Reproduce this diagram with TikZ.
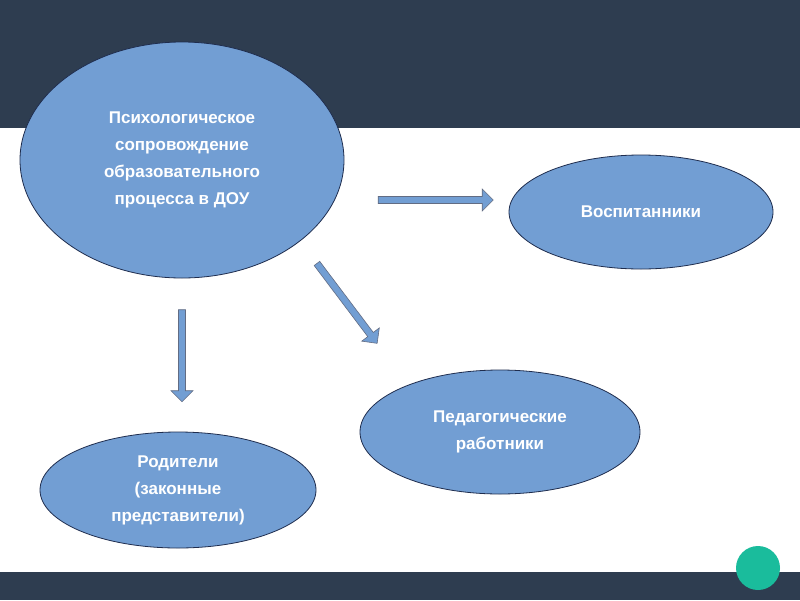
\documentclass[tikz,border=0pt]{standalone}
\usepackage{fontspec}
\setmainfont{Liberation Sans}
\usetikzlibrary{shapes.arrows,shapes.geometric}
\definecolor{band}{HTML}{2E3D50}
\definecolor{fillblue}{HTML}{729ED3}
\definecolor{edgeblue}{HTML}{1F2D4E}
\definecolor{turq}{HTML}{1ABC9C}
\tikzset{
  topic/.style={ellipse, draw=edgeblue, fill=fillblue, line width=0.8pt, inner sep=0pt,
    text=white, font=\bfseries\fontsize{17}{27}\selectfont, align=center},
  blockarrow/.style={single arrow, draw=edgeblue!70, fill=fillblue, line width=0.6pt,
    minimum height=#1, minimum width=22pt, single arrow head extend=5pt, inner sep=2pt}
}
\begin{document}
\begin{tikzpicture}[x=1pt,y=-1pt]
      \useasboundingbox (0,0) rectangle (800,600);
      %background
      \fill[white] (0,0) rectangle (800,600);
      \fill[band] (0,0) rectangle (800,128);
      \fill[band] (0,572) rectangle (800,600);
      \fill[turq] (758,568) circle (22);
      %ellipses
      \node[topic, minimum width=324pt, minimum height=236pt] (dou) at (182,160)
        {Психологическое\\сопровождение\\образовательного\\процесса в ДОУ};
      \node[topic, minimum width=264pt, minimum height=114pt] (pupils) at (641,212) {Воспитанники};
      \node[topic, minimum width=280pt, minimum height=124pt] (teach) at (500,432) {Педагогические\\работники};
      \node[topic, minimum width=276pt, minimum height=116pt] (parents) at (178,490) {Родители\\(законные\\представители)};
      %arrows
      \node[blockarrow=115pt] (arr1) at (434,200) {};
      \node[blockarrow=100pt, rotate=-53] (arr2) at (346,302) {};
      \node[blockarrow=92pt, rotate=-90] (arr3) at (182,354) {};
    \end{tikzpicture}
\end{document}
